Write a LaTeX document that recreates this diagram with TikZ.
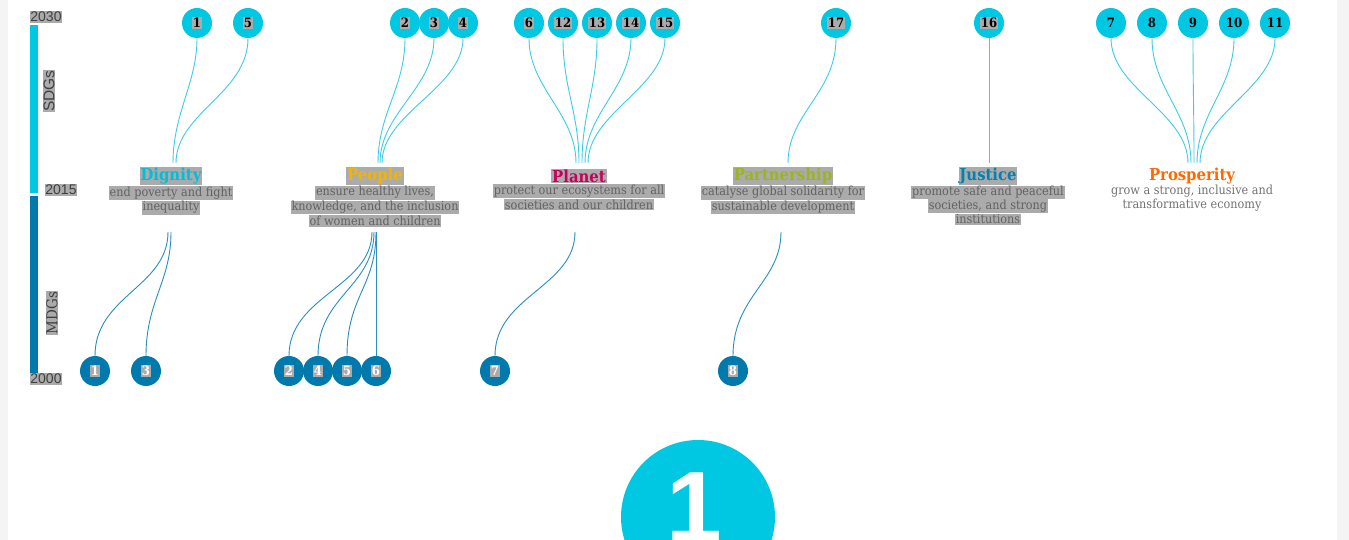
\documentclass[tikz,border=0pt]{standalone}
\usepackage{fontspec}
\setmainfont{DejaVu Serif Condensed}
\setsansfont{Liberation Sans}
\usetikzlibrary{positioning}
\definecolor{sdg}{HTML}{00C8E2}
\definecolor{mdg}{HTML}{0079AD}
\definecolor{sdgline}{HTML}{3CCDE6}
\definecolor{mdgline}{HTML}{2A8EBF}
\definecolor{hlgray}{HTML}{ABABAB}
\definecolor{txtgray}{HTML}{626262}
\definecolor{side}{HTML}{F4F4F4}
\definecolor{dignity}{HTML}{00BEDC}
\definecolor{people}{HTML}{F5B400}
\definecolor{planet}{HTML}{C8005A}
\definecolor{partner}{HTML}{9BB51C}
\definecolor{justice}{HTML}{0082B4}
\definecolor{prosper}{HTML}{FF6A00}
\newcommand{\hilite}[1]{{\setlength{\fboxsep}{0.8pt}\colorbox{hlgray}{#1}}}

\begin{document}
\begin{tikzpicture}[x=1pt,y=-1pt,
	sdgc/.style={circle,fill=sdg,minimum size=30pt,inner sep=0pt,
		font=\bfseries\fontsize{13}{13}\selectfont},
	mdgc/.style={circle,fill=mdg,minimum size=30pt,inner sep=0pt,text=white,
		font=\bfseries\fontsize{13}{13}\selectfont},
	sln/.style={draw=sdgline,line width=0.9pt},
	mln/.style={draw=mdgline,line width=0.9pt},
	ttl/.style={inner sep=0pt,font=\bfseries\fontsize{16.5}{16.5}\selectfont},
	dsc/.style={inner sep=0pt,align=center,text=txtgray,
		font=\fontsize{12.5}{13.8}\selectfont},
	yr/.style={inner sep=0pt,text=black!75,font=\sffamily\fontsize{14}{14}\selectfont}]
	\useasboundingbox (0,0) rectangle (1349,540);
	\clip (0,0) rectangle (1349,540);
	\fill[side] (0,0) rectangle (1349,540);
	\fill[white] (8,0) rectangle (1337,540);
	% timeline
	\draw[line width=8pt,sdg] (34,25) -- (34,193);
	\draw[line width=8pt,mdg] (34,196) -- (34,373);
	\node [yr] (y30) at (46,17) {\hilite{2030}};
	\node [yr] (y15) at (61,190) {\hilite{2015}};
	\node [yr] (y00) at (46,379) {\hilite{2000}};
	\node [yr, rotate=90, font=\sffamily\fontsize{15.5}{15.5}\selectfont] (sdgs) at (49,91) {\hilite{SDGs}};
	\node [yr, rotate=90, font=\fontsize{15}{15}\selectfont] (mdgs) at (52,313) {\hilite{MDGs}};
	% titles and descriptions
	\node [ttl, text=dignity] (dg) at (171,176) {\hilite{Dignity}};
	\node [dsc, below=0.5pt of dg] (dgd) {\hilite{end poverty and fight}\\\hilite{inequality}};
	\node [ttl, text=people] (pe) at (375,176) {\hilite{People}};
	\node [dsc, below=0.5pt of pe] (ped) {\hilite{ensure healthy lives,}\\\hilite{knowledge, and the inclusion}\\\hilite{of women and children}};
	\node [ttl, text=planet] (pl) at (579,176) {\hilite{Planet}};
	\node [dsc, below=0.5pt of pl] (pld) {\hilite{protect our ecosystems for all}\\\hilite{societies and our children}};
	\node [ttl, text=partner] (pa) at (783,176) {\hilite{Partnership}};
	\node [dsc, below=0.5pt of pa] (pad) {\hilite{catalyse global solidarity for}\\\hilite{sustainable development}};
	\node [ttl, text=justice] (ju) at (988,176) {\hilite{Justice}};
	\node [dsc, below=0.5pt of ju] (jud) {\hilite{promote safe and peaceful}\\\hilite{societies, and strong}\\\hilite{institutions}};
	\node [ttl, text=prosper] (pr) at (1192,176) {Prosperity};
	\node [dsc, below=0.5pt of pr, text=black!55] (prd) {grow a strong, inclusive and\\transformative economy};
	% hubs
	\coordinate (dgt) at (174.5,163);
	\coordinate (pet) at (380,163);
	\coordinate (plt) at (582,163);
	\coordinate (pat) at (788,163);
	\coordinate (jut) at (989,163);
	\coordinate (prt) at (1194,163);
	\coordinate (dgb) at (169.5,232);
	\coordinate (peb) at (374,232);
	\coordinate (plb) at (575,232);
	\coordinate (pab) at (781,232);
	% SDG circles
	\node [sdgc] (s1) at (197,23) {\hilite{1}};
	\node [sdgc] (s5) at (248,23) {\hilite{5}};
	\node [sdgc] (s2) at (405,23) {\hilite{2}};
	\node [sdgc] (s3) at (434,23) {\hilite{3}};
	\node [sdgc] (s4) at (463,23) {\hilite{4}};
	\node [sdgc] (s6) at (529,23) {\hilite{6}};
	\node [sdgc] (s12) at (563,23) {\hilite{12}};
	\node [sdgc] (s13) at (597,23) {\hilite{13}};
	\node [sdgc] (s14) at (631,23) {\hilite{14}};
	\node [sdgc] (s15) at (665,23) {\hilite{15}};
	\node [sdgc] (s17) at (836,23) {\hilite{17}};
	\node [sdgc] (s16) at (989,23) {\hilite{16}};
	\node [sdgc] (s7) at (1111,23) {7};
	\node [sdgc] (s8) at (1152,23) {8};
	\node [sdgc] (s9) at (1193,23) {9};
	\node [sdgc] (s10) at (1234,23) {10};
	\node [sdgc] (s11) at (1275,23) {11};
	% MDG circles
	\node [mdgc] (m1) at (95,371) {\hilite{1}};
	\node [mdgc] (m3) at (146,371) {\hilite{3}};
	\node [mdgc] (m2) at (289,371) {\hilite{2}};
	\node [mdgc] (m4) at (318,371) {\hilite{4}};
	\node [mdgc] (m5) at (347,371) {\hilite{5}};
	\node [mdgc] (m6) at (376,371) {\hilite{6}};
	\node [mdgc] (m7) at (495,371) {\hilite{7}};
	\node [mdgc] (m8) at (733,371) {\hilite{8}};
	% SDG links
	\draw [sln] (s1.south) .. controls +(0,45) and +(0,-50) .. ([xshift=-1.5]dgt);
	\draw [sln] (s5.south) .. controls +(0,55) and +(0,-50) .. ([xshift=1.5]dgt);
	\draw [sln] (s2.south) .. controls +(0,50) and +(0,-50) .. ([xshift=-2]pet);
	\draw [sln] (s3.south) .. controls +(0,50) and +(0,-50) .. (pet);
	\draw [sln] (s4.south) .. controls +(0,50) and +(0,-50) .. ([xshift=2]pet);
	\draw [sln] (s6.south) .. controls +(0,50) and +(0,-50) .. ([xshift=-6]plt);
	\draw [sln] (s12.south) .. controls +(0,50) and +(0,-50) .. ([xshift=-3]plt);
	\draw [sln] (s13.south) .. controls +(0,50) and +(0,-50) .. (plt);
	\draw [sln] (s14.south) .. controls +(0,50) and +(0,-50) .. ([xshift=3]plt);
	\draw [sln] (s15.south) .. controls +(0,50) and +(0,-50) .. ([xshift=6]plt);
	\draw [sln] (s17.south) .. controls +(0,55) and +(0,-50) .. (pat);
	\draw [sln] (s16.south) -- (jut);
	\draw [sln] (s7.south) .. controls +(0,50) and +(0,-50) .. ([xshift=-6]prt);
	\draw [sln] (s8.south) .. controls +(0,50) and +(0,-50) .. ([xshift=-3]prt);
	\draw [sln] (s9.south) .. controls +(0,50) and +(0,-50) .. (prt);
	\draw [sln] (s10.south) .. controls +(0,50) and +(0,-50) .. ([xshift=3]prt);
	\draw [sln] (s11.south) .. controls +(0,50) and +(0,-50) .. ([xshift=6]prt);
	% MDG links
	\draw [mln] ([xshift=-1.5]dgb) .. controls +(0,55) and +(0,-60) .. (m1.north);
	\draw [mln] ([xshift=1.5]dgb) .. controls +(0,50) and +(0,-55) .. (m3.north);
	\draw [mln] ([xshift=-2]peb) .. controls +(0,55) and +(0,-60) .. (m2.north);
	\draw [mln] (peb) .. controls +(0,55) and +(0,-60) .. (m4.north);
	\draw [mln] ([xshift=2]peb) .. controls +(0,55) and +(0,-60) .. (m5.north);
	\draw [mln] (m6.north) -- (m6.north |- peb);
	\draw [mln] (plb) .. controls +(0,55) and +(0,-60) .. (m7.north);
	\draw [mln] (pab) .. controls +(0,50) and +(0,-60) .. (m8.north);
	% big goal
	\node [circle, fill=sdg, minimum size=154pt, inner sep=0pt] (big) at (698,517) {};
	\node [text=white, inner sep=0pt, font=\sffamily\bfseries\fontsize{100}{100}\selectfont] (bignum) at (694,507) {1};
\end{tikzpicture}
\end{document}
